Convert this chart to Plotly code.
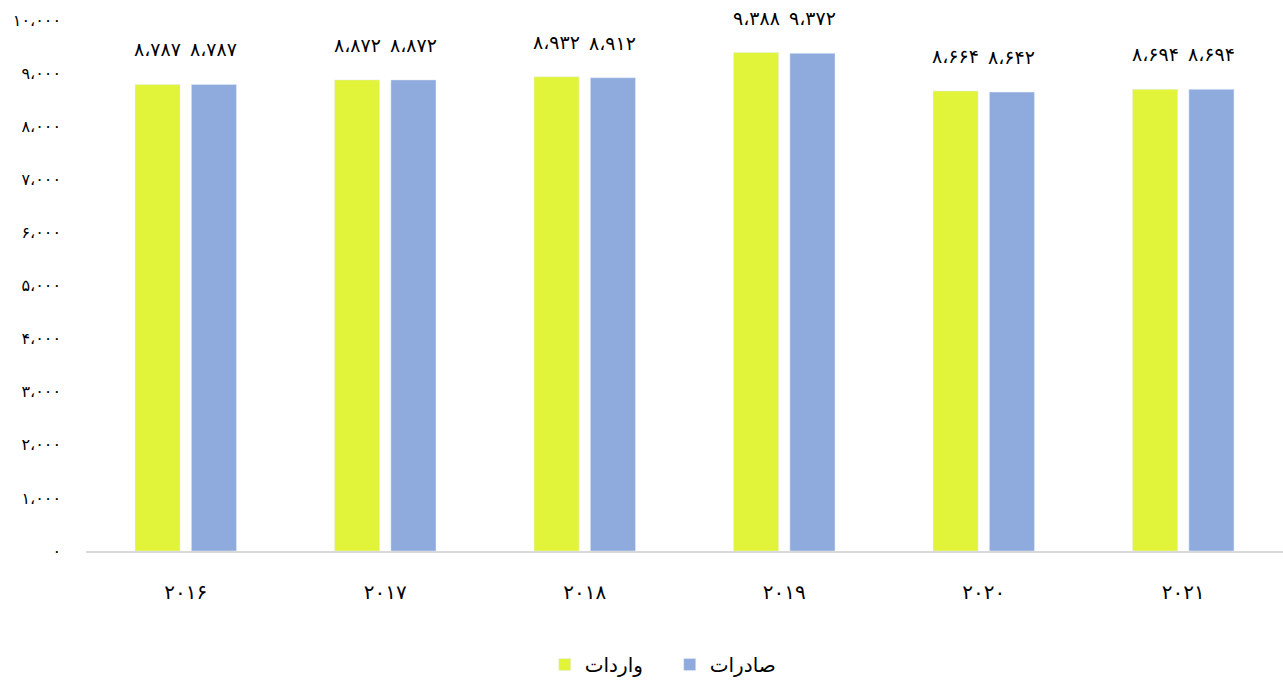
import plotly.graph_objects as go

# Years and values (thousands)
years = [2016, 2017, 2018, 2019, 2020, 2021]
imports_vals = [8787, 8872, 8932, 9388, 8664, 8694]   # واردات
exports_vals = [8787, 8872, 8912, 9372, 8642, 8694]   # صادرات
y_ticks = list(range(0, 10001, 1000))

FA_DIGITS = str.maketrans("0123456789", "۰۱۲۳۴۵۶۷۸۹")


def fa_num(v, sep=True):
    s = f"{v:,}" if sep else str(v)
    return s.replace(",", "،").translate(FA_DIGITS)


cats = [fa_num(y, sep=False) for y in years]

YELLOW = "#E1F43A"
BLUE = "#8FAADC"
FONT = "DejaVu Sans"

fig = go.Figure()
fig.add_trace(go.Bar(x=cats, y=imports_vals, name="واردات", marker_color=YELLOW))
fig.add_trace(go.Bar(x=cats, y=exports_vals, name="صادرات", marker_color=BLUE))

# value labels above each bar
for c, a, b in zip(cats, imports_vals, exports_vals):
    for val, dx in ((a, -28), (b, 28)):
        fig.add_annotation(x=c, y=val, text=fa_num(val), showarrow=False,
                           xshift=dx, yshift=35, yanchor="middle",
                           font=dict(family=FONT, size=19, color="#000"))

fig.update_layout(
    width=1283, height=684,
    margin=dict(l=86, r=0, t=20, b=133),
    plot_bgcolor="white", paper_bgcolor="white",
    barmode="group", bargap=0.435, bargroupgap=0.2,
    font=dict(family=FONT, color="#000"),
    showlegend=True,
    legend=dict(orientation="h", xref="container", x=0.522, xanchor="center",
                yref="container", y=0.0, yanchor="bottom",
                font=dict(family=FONT, size=20), itemwidth=30,
                entrywidth=80),
)
fig.update_xaxes(showgrid=False, showline=True, linecolor="#D9D9D9", linewidth=2,
                 ticks="", tickfont=dict(family=FONT, size=20),
                 ticklabelstandoff=22)
fig.update_yaxes(range=[0, 10000], tickvals=y_ticks,
                 ticktext=[fa_num(v) for v in y_ticks],
                 showgrid=False, zeroline=False, showline=False,
                 tickfont=dict(family=FONT, size=16), ticklabelstandoff=24)

fig.write_html("out.html")
